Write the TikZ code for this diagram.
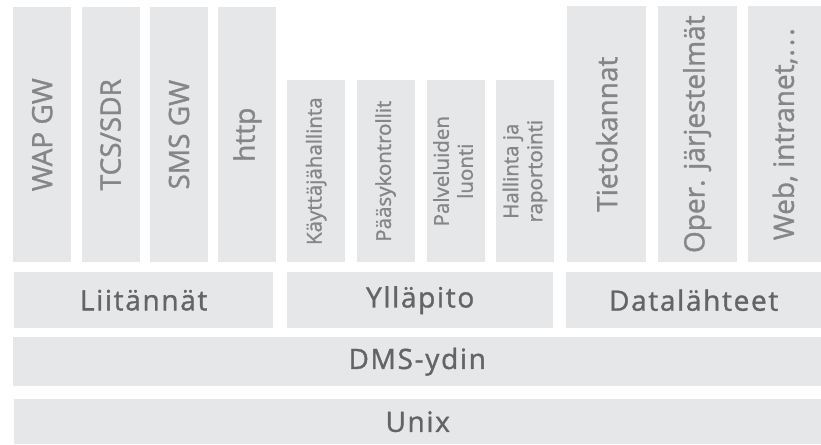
\documentclass[tikz,border=0pt]{standalone}
\usepackage{fontspec}
\setmainfont{Open Sans}[FakeBold=1.2]
\newfontfamily\layerfont{Open Sans}[FakeBold=1.2,LetterSpace=6]
\usetikzlibrary{positioning}
\definecolor{boxgray}{HTML}{E6E7E8}
\definecolor{labelgray}{HTML}{858688}
\definecolor{layergray}{HTML}{636466}
\newcommand{\vtext}[1]{\rotatebox{90}{#1}}

\begin{document}
\begin{tikzpicture}[
  x=1pt,y=-1pt,
  blk/.style={fill=boxgray,inner sep=0pt,anchor=north west},
  iface/.style={blk,minimum width=58pt,minimum height=255pt,text=labelgray,
    font=\fontsize{28}{30}\selectfont},
  admin/.style={blk,minimum width=58pt,minimum height=182pt,text=labelgray,
    font=\fontsize{20.5}{24}\selectfont},
  source/.style={blk,minimum width=79pt,minimum height=256pt,text=labelgray,
    font=\fontsize{28}{30}\selectfont},
  layer/.style={blk,text=layergray,font=\layerfont\fontsize{28}{30}\selectfont},
  node distance=10pt
]
\useasboundingbox (0,0) rectangle (821,444);
% liitannat
\node[iface] (wap) at (13,7) {\vtext{WAP GW}};
\node[iface,right=of wap] (tcs) {\vtext{TCS/SDR}};
\node[iface,right=of tcs] (sms) {\vtext{SMS GW}};
\node[iface,right=of sms] (http) {\vtext{http}};
% yllapito
\node[admin] (kayt) at (287,80) {\vtext{Käyttäjähallinta}};
\node[admin,right=11pt of kayt] (paas) {\vtext{Pääsykontrollit}};
\node[admin,right=12pt of paas] (palv) {\vtext{\begin{tabular}{@{}c@{}}Palveluiden\\luonti\end{tabular}}};
\node[admin,right=11pt of palv] (hall) {\vtext{\begin{tabular}{@{}c@{}}Hallinta ja\\raportointi\end{tabular}}};
% datalahteet
\node[source] (tieto) at (567,6) {\vtext{Tietokannat}};
\node[source,right=11pt of tieto] (oper) {\vtext{Oper. järjestelmät}};
\node[source,right=11pt of oper,minimum width=74pt] (web) {\vtext{Web, intranet,\kern1pt.\kern3pt.\kern3pt.}};
% kerrokset
\node[layer,minimum width=259pt,minimum height=56pt] (liit) at (14,272) {Liitännät};
\node[layer,minimum width=266pt,minimum height=56pt] (yll) at (287,272) {Ylläpito};
\node[layer,minimum width=255pt,minimum height=56pt] (data) at (566,272) {Datalähteet};
\node[layer,minimum width=808pt,minimum height=49pt] (dms) at (13,337) {DMS-ydin};
\node[layer,minimum width=807pt,minimum height=45pt] (unix) at (14,399) {Unix};
\end{tikzpicture}
\end{document}
